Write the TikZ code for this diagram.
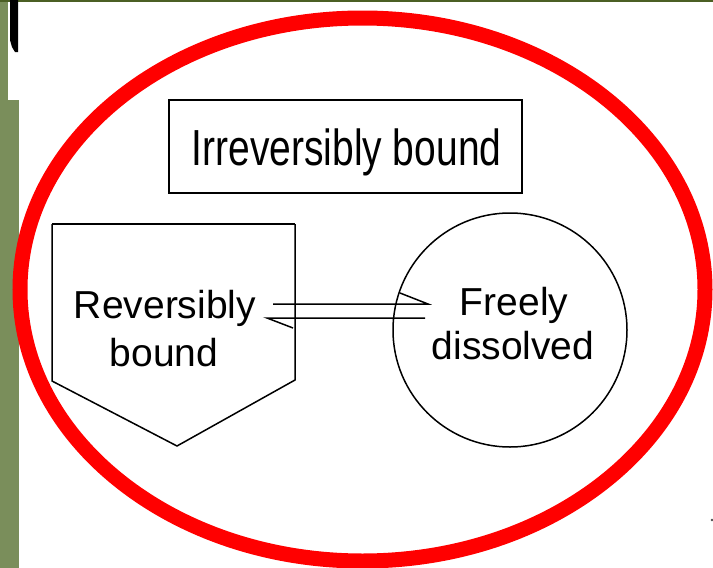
\documentclass[tikz,border=0pt]{standalone}
\usepackage{fontspec}
\setmainfont{Liberation Sans}
\definecolor{topgreen}{HTML}{4B5F24}
\definecolor{leftgreen}{HTML}{7A8E5B}
\definecolor{ringred}{HTML}{FF0000}
\begin{document}
\begin{tikzpicture}[x=1pt,y=-1pt,
  lbl/.style={font=\fontsize{39}{40}\selectfont, inner sep=0pt, anchor=base},
  shapeline/.style={draw=black, line width=1.5pt},
  eqline/.style={draw=black, line width=1.5pt},
  ring/.style={draw=ringred, line width=15pt}]
\useasboundingbox (0,0) rectangle (713,568);
\clip (0,0) rectangle (713,568);
% background
\fill[white] (0,0) rectangle (713,568);
\fill[topgreen] (0,0) rectangle (713,2.2);
\fill[leftgreen] (0,2.2) rectangle (8,568);
\fill[leftgreen] (0,100) rectangle (19,568);
\fill[black] (10,0) -- (18,0) -- (18,52) -- (15,52) -- (12,47) -- (10,40) -- cycle;
% irreversibly bound box
\node[draw=black, line width=2pt, minimum width=353pt, minimum height=93pt, inner sep=0pt] (irrbox) at (345.5,146.5) {};
\node[lbl] (irr) at (346.5,165) {\scalebox{1}[1.3]{Irreversibly bound}};
% reversibly bound pentagon
\coordinate (p1) at (52,224);
\coordinate (p2) at (295,224);
\coordinate (p3) at (295,380);
\coordinate (p4) at (177,446);
\coordinate (p5) at (52,381);
\draw[shapeline] (p2) -- (p3) -- (p4) -- (p5) -- (p1);
\draw[draw=black, line width=2.6pt] (p1) -- (p2);
\node[lbl] (rev1) at (165,318) {Reversibly};
\node[lbl] (rev2) at (164,366) {bound};
% freely dissolved circle
\node[circle, shapeline, minimum size=234pt, inner sep=0pt] (free) at (510,330) {};
\node[lbl] (fre1) at (514,315) {Freely};
\node[lbl] (fre2) at (513,359) {dissolved};
% equilibrium half arrows
\coordinate (a1) at (273,304);
\coordinate (a2) at (428,304);
\coordinate (a2b) at (400,293);
\coordinate (b1) at (425,318);
\coordinate (b2) at (267,318);
\coordinate (b2b) at (293,328);
\draw[eqline] (a1) -- (a2) -- (a2b);
\draw[eqline] (b1) -- (b2) -- (b2b);
% small dot
\fill[black!70] (712,520) circle (1.3);
% red ellipse
\draw[ring] (362.5,289.5) ellipse [x radius=342.5, y radius=271.5];
\end{tikzpicture}
\end{document}
